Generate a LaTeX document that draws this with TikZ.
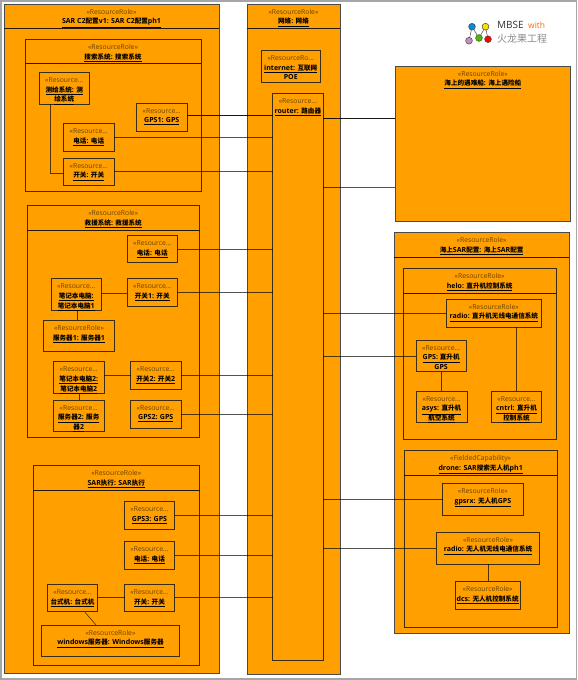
\documentclass[tikz,border=0pt]{standalone}
\usepackage{fontspec}
\setmainfont{Open Sans}
\newfontfamily\cjkf{Noto Sans CJK SC}[Scale=0.94]
\newfontfamily\cjklogo{Noto Sans CJK SC}
\newcommand\zh[1]{{\cjkf #1}}
\definecolor{fillor}{HTML}{FF9F00}
\definecolor{edgeA}{HTML}{3A2C10}
\definecolor{edgeB}{HTML}{4A4A4A}
\definecolor{stereoc}{HTML}{6A4200}
\newcommand\ul[1]{\underline{#1}}
\tikzset{
  inbox/.style={draw=edgeA,fill=fillor,line width=0.9pt,inner sep=0pt,outer sep=0pt},
  outbox/.style={draw=edgeB,fill=fillor,line width=0.9pt,inner sep=0pt,outer sep=0pt},
  stxt/.style={anchor=north,inner sep=0pt,text=stereoc,font=\fontsize{6.8}{9.6}\selectfont},
  ttxt/.style={anchor=north,inner sep=0pt,text=black,align=center,font=\fontsize{7}{9.6}\selectfont\bfseries},
  conn/.style={draw=black,draw opacity=0.68,line width=0.9pt},
  connk/.style={draw=black,draw opacity=0.9,line width=0.9pt},
  hline/.style={draw=black!85!fillor,line width=0.8pt},
  dot/.style={circle,draw=edgeB,line width=0.5pt,minimum size=6.8pt,inner sep=0pt,outer sep=0pt},
  logol/.style={draw=edgeB,line width=0.5pt}
}
% name x0 y0 x1 y1 style stereotype title
\newcommand\bx[8]{%
  \node[#6,minimum width={(#4-#2)*1pt},minimum height={(#5-#3)*1pt}] (#1) at ({(#2+#4)/2},{(#3+#5)/2}) {};
  \node[stxt] (#1-s) at ({(#2+#4)/2},{#3+4}) {\rule{0pt}{6pt}#7};
  \node[ttxt] (#1-t) at ({(#2+#4)/2},{#3+13.5}) {\rule{0pt}{6pt}#8};
}
\newcommand\hd[2]{\draw[hline] (#1.west |- 0,#2) -- (#1.east |- 0,#2);}
\newcommand\hc[3]{\draw[conn] (#1.east |- 0,#3) -- (#2.west |- 0,#3);}
\newcommand\vc[3]{\draw[conn] (#1.south -| #3,0) -- (#2.north -| #3,0);}
\begin{document}
\begin{tikzpicture}[x=1pt,y=-1pt]
\useasboundingbox (0,0) rectangle (578,680);
\fill[white] (0,0) rectangle (578,680);
\coordinate (fa) at (1,0.8);
\coordinate (fb) at (576.4,679);
\draw[gray!70,line width=1.4pt] (fa) rectangle (fb);
% left column
\bx{c2}{4}{4}{219}{673}{outbox}{«ResourceRole»}{\ul{SAR C2\zh{配置}v1: SAR C2\zh{配置}ph1}}
\hd{c2}{28}
\bx{srch}{25}{39.3}{201}{191.7}{inbox}{«ResourceRole»}{\ul{\zh{搜索系统}: \zh{搜索系统}}}
\hd{srch}{63.7}
\bx{surv}{39}{72.5}{89.5}{104}{inbox}{«Resource...}{\ul{\zh{测绘系统}: \zh{测}}\\\ul{\zh{绘系统}}}
\bx{gpsa}{136.5}{103}{187}{131}{inbox}{«Resource...}{\ul{GPS1: GPS}}
\bx{tela}{63.5}{123.5}{114}{151.5}{inbox}{«Resource...}{\ul{\zh{电话}: \zh{电话}}}
\bx{swa}{63.5}{158}{114}{185.5}{inbox}{«Resource...}{\ul{\zh{开关}: \zh{开关}}}
\bx{resc}{27}{205.3}{199.5}{437.7}{inbox}{«ResourceRole»}{\ul{\zh{救援系统}: \zh{救援系统}}}
\hd{resc}{230.3}
\bx{telb}{127}{235.3}{177.5}{262.7}{inbox}{«Resource...}{\ul{\zh{电话}: \zh{电话}}}
\bx{lapa}{51}{278.7}{101.5}{310.3}{inbox}{«Resource...}{\ul{\zh{笔记本电脑}:}\\\ul{\zh{笔记本电脑}1}}
\bx{swb}{127}{278.7}{177.5}{306.3}{inbox}{«Resource...}{\ul{\zh{开关}1: \zh{开关}}}
\bx{srva}{43.5}{320.3}{114.5}{351.7}{inbox}{«ResourceRole»}{\ul{\zh{服务器}1: \zh{服务器}1}}
\bx{lapb}{53.5}{361.7}{104}{393.3}{inbox}{«Resource...}{\ul{\zh{笔记本电脑}2:}\\\ul{\zh{笔记本电脑}2}}
\bx{swc}{130.5}{361.7}{181}{389.3}{inbox}{«Resource...}{\ul{\zh{开关}2: \zh{开关}2}}
\bx{srvb}{53.5}{400}{104}{431.7}{inbox}{«Resource...}{\ul{\zh{服务器}2: \zh{服务}}\\\ul{\zh{器}2}}
\bx{gpsb}{130.5}{400}{181}{428.3}{inbox}{«Resource...}{\ul{GPS2: GPS}}
\bx{exec}{33}{465.7}{199.5}{665}{inbox}{«ResourceRole»}{\ul{SAR\zh{执行}: SAR\zh{执行}}}
\hd{exec}{490.7}
\bx{gpsc}{124.5}{501.7}{174.5}{529.3}{inbox}{«Resource...}{\ul{GPS3: GPS}}
\bx{telc}{124.5}{541.7}{174.5}{569.3}{inbox}{«Resource...}{\ul{\zh{电话}: \zh{电话}}}
\bx{swd}{124.5}{584.3}{174.5}{611.7}{inbox}{«Resource...}{\ul{\zh{开关}: \zh{开关}}}
\bx{desk}{47.5}{584.3}{97.5}{611.7}{inbox}{«Resource...}{\ul{\zh{台式机}: \zh{台式机}}}
\bx{wins}{41.5}{625}{179.5}{656.3}{inbox}{«ResourceRole»}{\ul{windows\zh{服务器}: Windows\zh{服务器}}}
% network
\bx{net}{247}{4}{340}{674}{outbox}{«ResourceRole»}{\ul{\zh{网络}: \zh{网络}}}
\hd{net}{28}
\bx{inet}{261}{50.3}{320.5}{82.3}{inbox}{«ResourceRo...}{\ul{internet: \zh{互联网}}\\POE}
\bx{rout}{272.7}{93.7}{323}{660}{inbox}{«Resource...}{\ul{router: \zh{路由器}}}
% right column
\bx{ship}{395}{66}{570.7}{221}{outbox}{«ResourceRole»}{\ul{\zh{海上的遇难船}: \zh{海上遇险船}}}
\bx{sea}{394}{232.7}{569.3}{633.3}{outbox}{«ResourceRole»}{\ul{\zh{海上}SAR\zh{配置}: \zh{海上}SAR\zh{配置}}}
\hd{sea}{257.7}
\bx{helo}{403}{268.3}{556.3}{439.3}{inbox}{«ResourceRole»}{\ul{helo: \zh{直升机控制系统}}}
\hd{helo}{293.3}
\bx{hrad}{446.3}{299}{541.3}{327.3}{inbox}{«ResourceRole»}{\ul{radio: \zh{直升机无线电通信系统}}}
\bx{hgps}{416}{340}{466.3}{371.7}{inbox}{«Resource...}{\ul{GPS: \zh{直升机}}\\GPS}
\bx{asys}{416.3}{391}{467}{422.7}{inbox}{«Resource...}{\ul{asys: \zh{直升机}}\\\ul{\zh{航空系统}}}
\bx{cntr}{491.3}{391}{541.7}{422.7}{inbox}{«Resource...}{\ul{cntrl: \zh{直升机}}\\\ul{\zh{控制系统}}}
\bx{dron}{404}{450.7}{557.3}{627.7}{inbox}{«FieldedCapability»}{\ul{drone: SAR\zh{搜索无人机}ph1}}
\hd{dron}{475.3}
\bx{grx}{442.7}{483.3}{523}{515.3}{inbox}{«ResourceRole»}{\ul{gpsrx: \zh{无人机}GPS}}
\bx{drad}{436.3}{532}{539.7}{564}{inbox}{«ResourceRole»}{\ul{radio: \zh{无人机无线电通信系统}}}
\bx{dcs}{455.3}{581.3}{520}{609.3}{inbox}{«ResourceRole»}{\ul{dcs: \zh{无人机控制系统}}}
% connectors
\draw[connk] (gpsa.east |- 0,115.5) -- (rout.west |- 0,115.5);
\hc{tela}{rout}{137}
\hc{swa}{rout}{171.7}
\draw[conn] (surv.south -| 50.7,0) |- (swa.west |- 0,173);
\hc{telb}{rout}{249}
\hc{lapa}{swb}{293.3}
\hc{swb}{rout}{292.3}
\vc{lapa}{srva}{77.7}
\hc{lapb}{swc}{375.7}
\hc{swc}{rout}{375.3}
\vc{lapb}{srvb}{79}
\hc{gpsb}{rout}{414.3}
\hc{gpsc}{rout}{515.7}
\hc{telc}{rout}{555.3}
\hc{swd}{rout}{597.7}
\hc{desk}{swd}{597.7}
\coordinate (wa) at (85,612.3);
\coordinate (wb) at (96,625);
\draw[conn,line width=0.6pt] (wa) -- (wb);
\draw[connk] (rout.east |- 0,118) -- (ship.west |- 0,118);
\hc{rout}{ship}{187.7}
\hc{rout}{hrad}{313.3}
\hc{rout}{hgps}{356}
\hc{rout}{grx}{499.3}
\hc{rout}{drad}{548}
\vc{hgps}{asys}{441.7}
\vc{hrad}{cntr}{516.7}
\vc{drad}{dcs}{488}
% logo
\node[dot,fill=cyan!70!blue] (la) at (472,26.7) {};
\node[dot,fill=yellow!80!orange] (lb) at (485.5,26.7) {};
\node[dot,fill=violet!45!white] (lc) at (469,40.7) {};
\node[dot,fill=green!60!black!70!yellow] (ld) at (479,38) {};
\node[dot,fill=red] (le) at (488,39.2) {};
\draw[logol] (la) -- (lc);
\draw[logol] (la) -- (ld);
\draw[logol] (lb) -- (ld);
\draw[logol] (lb) -- (le);
\node[anchor=west,inner sep=0pt,font=\fontsize{10}{11}\selectfont,text=black!80] (lm) at (497,25) {MBSE};
\node[anchor=west,inner sep=0pt,font=\fontsize{8.5}{11}\selectfont,text=orange!85!red] (lw) at (528,25) {with};
\node[anchor=west,inner sep=0pt,font=\fontsize{10}{11}\selectfont\cjklogo,text=black!45] (lz) at (497,38.5) {火龙果工程};
\end{tikzpicture}
\end{document}
